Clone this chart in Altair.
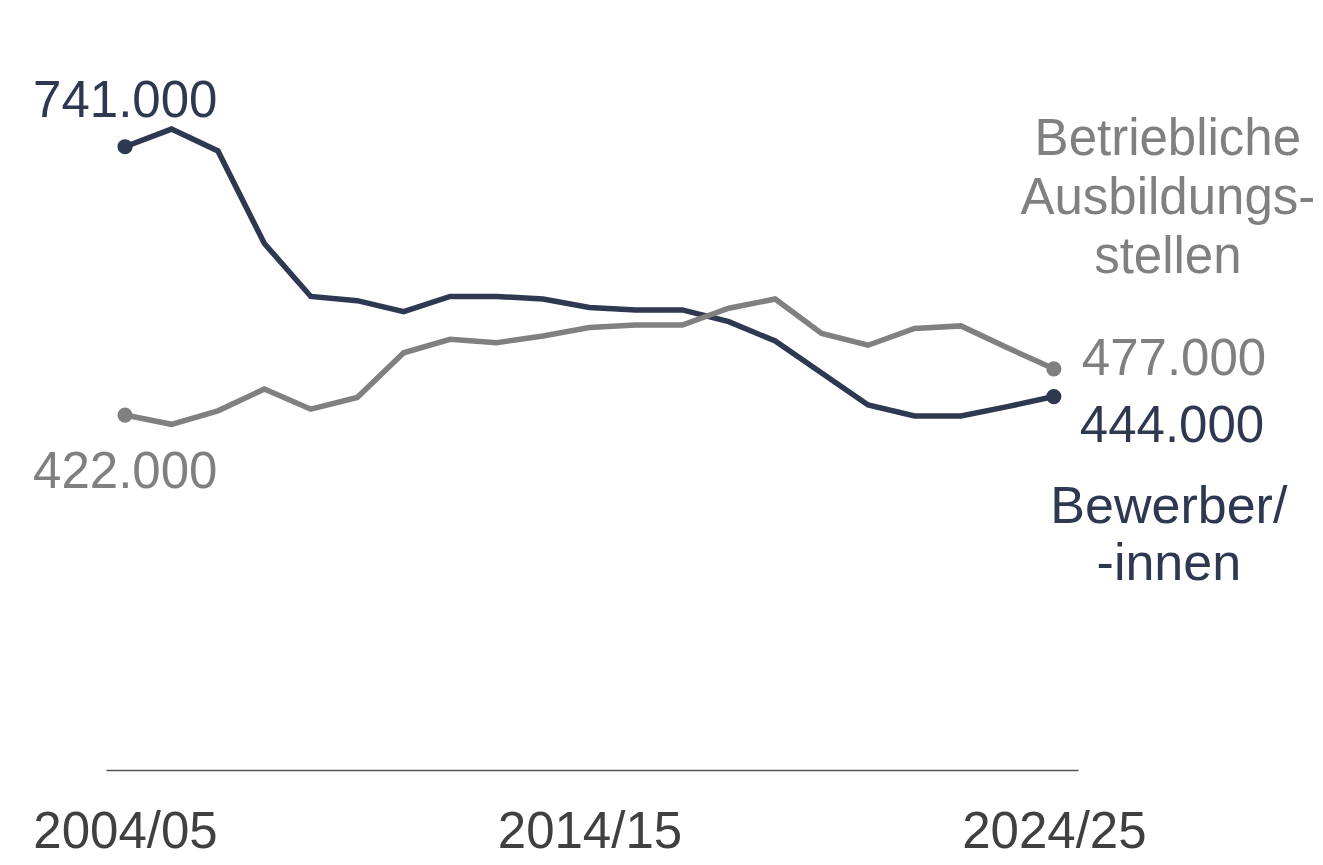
import json
import altair as alt
import pandas as pd

# ---- data (thousands) ----
years = ["2004/05", "2005/06", "2006/07", "2007/08", "2008/09", "2009/10", "2010/11",
         "2011/12", "2012/13", "2013/14", "2014/15", "2015/16", "2016/17", "2017/18",
         "2018/19", "2019/20", "2020/21", "2021/22", "2022/23", "2023/24", "2024/25"]
bewerber = [741, 762, 736, 626, 563, 558, 545, 563, 563, 560, 550, 547, 547, 533,
            510, 472, 434, 421, 421, 432, 444]
stellen = [422, 411, 427, 453, 429, 443, 496, 512, 508, 516, 526, 529, 529, 549,
           560, 519, 505, 525, 528, 502, 477]
tick_years = ["2004/05", "2014/15", "2024/25"]

series_names = ["Bewerber/-innen", "Betriebliche Ausbildungsstellen"]
DARK = "#2e3850"
GREY = "#808080"
FONT = "Liberation Sans"
FS = 51

rows = []
for i, y in enumerate(years):
    rows.append({"i": i, "year": y, "series": series_names[0], "v": bewerber[i]})
    rows.append({"i": i, "year": y, "series": series_names[1], "v": stellen[i]})
df = pd.DataFrame(rows)

tick_vals = [years.index(t) for t in tick_years]
label_expr = f"{json.dumps(years)}[datum.value]"

XS = alt.Scale(domain=[-0.41, 20.52], nice=False, zero=False)
YS = alt.Scale(domain=[0, 900], nice=False)

x = alt.X("i:Q", scale=XS,
          axis=alt.Axis(values=tick_vals, labelExpr=label_expr, title=None,
                        grid=False, ticks=False, tickSize=0, labelPadding=37,
                        labelFontSize=51, labelFont=FONT, labelColor="#404040",
                        labelLimit=0, labelOverlap=False,
                        domainColor="#555555", domainWidth=1.5, labelFlush=False))
y = alt.Y("v:Q", scale=YS, axis=None)
color = alt.Color("series:N", scale=alt.Scale(domain=series_names, range=[DARK, GREY]),
                  legend=None)

base = alt.Chart(df)
lines = base.mark_line(strokeWidth=5.5, strokeJoin="miter").encode(
    x=x, y=y, color=color, detail="series:N")
ends = base.transform_filter(
    (alt.datum.i == 0) | (alt.datum.i == len(years) - 1)
).mark_point(filled=True, size=230, opacity=1).encode(x=x, y=y, color=color)


def fmt(v):
    return f"{v:,}".replace(",", ".") + ".000"


def label(i, v, text, col, dx, dy, align="left", line_height=None, fs=FS):
    d = pd.DataFrame({"i": [i], "v": [v], "t": [text]})
    kw = dict(align=align, baseline="alphabetic", dx=dx, dy=dy, fontSize=fs,
              font=FONT, color=col)
    if line_height:
        kw["lineHeight"] = line_height
    return alt.Chart(d).mark_text(**kw).encode(
        x=alt.X("i:Q", scale=XS), y=alt.Y("v:Q", scale=YS), text="t:N")


last = len(years) - 1
texts = [
    label(0, bewerber[0], fmt(bewerber[0]), DARK, -92, -30),
    label(0, stellen[0], fmt(stellen[0]), GREY, -92, 73),
    label(last, stellen[last], fmt(stellen[last]), GREY, 28, 6),
    label(last, bewerber[last], fmt(bewerber[last]), DARK, 26, 45),
    label(last, stellen[last], ["Betriebliche", "Ausbildungs-", "stellen"], GREY,
          114, -214, align="center", line_height=59, fs=51),
    label(last, bewerber[last], ["Bewerber/", "-innen"], DARK,
          115, 126, align="center", line_height=57, fs=52),
]

chart = alt.layer(lines, ends, *texts).properties(
    width=972, height=757,
    autosize=alt.AutoSizeParams(type="none"),
    padding={"left": 98, "top": 5, "right": 237, "bottom": 87},
).configure(background="white").configure_view(stroke=None, strokeWidth=0)

chart.save("out.html", embed_options={"renderer": "svg", "actions": False})
